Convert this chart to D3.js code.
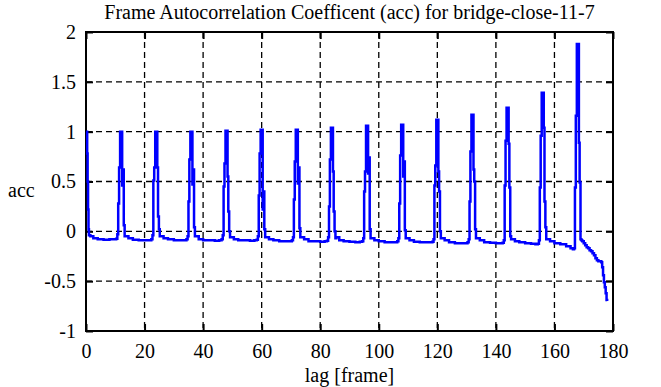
<!DOCTYPE html>
<html>
<head>
<meta charset="utf-8">
<script src="https://cdn.jsdelivr.net/npm/d3@7"></script>
<style>
  body { margin: 0; background: #fff; }
</style>
</head>
<body>
<div id="chart"></div>
<script>
// periodic peaks every 12 frames (GOP)
const peakCentres = [12, 24, 36, 48, 60, 72, 84, 96, 108, 120, 132, 144, 156, 168];
const peakOffsets = [-1.3, -1.0, -0.7, -0.35, 0.35, 0.6, 0.9, 1.2];
const peakAcc = [
  [-0.03, 0.28, 0.64, 1.00, 0.46, 0.62, 0.06, -0.05],
  [-0.04, 0.51, 0.64, 1.00, 0.64, 0.15, 0.02, -0.05],
  [-0.05, 0.30, 0.72, 1.00, 0.47, 0.62, 0.04, -0.05],
  [-0.04, 0.45, 0.68, 1.01, 0.55, 0.20, 0.00, -0.06],
  [-0.05, 0.36, 0.78, 1.02, 0.22, 0.40, 0.02, -0.06],
  [-0.06, 0.32, 0.70, 1.02, 0.48, 0.64, 0.03, -0.06],
  [-0.06, 0.25, 0.72, 1.04, 0.60, 0.20, 0.00, -0.07],
  [-0.07, 0.40, 0.60, 1.06, 0.58, 0.74, 0.02, -0.07],
  [-0.07, 0.28, 0.76, 1.07, 0.55, 0.70, 0.01, -0.07],
  [-0.08, 0.46, 0.66, 1.12, 0.60, 0.40, 0.00, -0.07],
  [-0.08, 0.30, 0.80, 1.17, 0.62, 0.50, 0.02, -0.07],
  [-0.09, 0.46, 0.91, 1.24, 0.88, 0.44, -0.05, -0.08],
  [-0.09, 0.44, 0.96, 1.39, 1.04, 0.30, 0.04, -0.08],
  [-0.17, 0.44, 1.16, 1.88, 0.89, 0.49, -0.08, -0.09]
];

// first lag (acc(0) = 1)
const startLag = [0, 0.4, 0.55, 0.7, 0.85, 1.0];
const startAcc = [1.00, 0.78, 0.50, 0.22, 0.02, -0.04];

// flat stretches between peaks
const baseStarts = [0, 12, 24, 36, 48, 60, 72, 84, 96, 108, 120, 132, 144, 156];
const baseOffsets = [1.5, 2.5, 4, 6, 8, 9.5, 10.3];
const baseAcc = [
  [-0.05, -0.07, -0.08, -0.085, -0.08, -0.08, -0.075],
  [-0.05, -0.07, -0.085, -0.09, -0.09, -0.09, -0.08],
  [-0.05, -0.07, -0.08, -0.09, -0.09, -0.09, -0.08],
  [-0.05, -0.08, -0.09, -0.09, -0.095, -0.09, -0.08],
  [-0.06, -0.08, -0.09, -0.09, -0.095, -0.09, -0.085],
  [-0.06, -0.08, -0.09, -0.10, -0.10, -0.10, -0.09],
  [-0.06, -0.08, -0.10, -0.10, -0.105, -0.10, -0.095],
  [-0.06, -0.09, -0.10, -0.105, -0.11, -0.105, -0.10],
  [-0.07, -0.09, -0.10, -0.11, -0.11, -0.11, -0.10],
  [-0.07, -0.09, -0.105, -0.11, -0.11, -0.11, -0.105],
  [-0.07, -0.09, -0.11, -0.12, -0.12, -0.12, -0.11],
  [-0.07, -0.09, -0.11, -0.115, -0.12, -0.12, -0.115],
  [-0.08, -0.10, -0.11, -0.12, -0.125, -0.13, -0.125],
  [-0.08, -0.10, -0.12, -0.13, -0.15, -0.17, -0.18]
];

// tail after the last peak
const tailLag = [169.5, 170, 170.5, 171, 171.5, 172, 172.5, 173, 173.5, 174, 174.5, 175, 175.5, 176, 176.3, 176.6, 176.9, 177.2, 177.5, 177.8, 178];
const tailAcc = [-0.10, -0.12, -0.14, -0.16, -0.17, -0.19, -0.20, -0.22, -0.24, -0.27, -0.29, -0.30, -0.30, -0.31, -0.36, -0.44, -0.51, -0.56, -0.62, -0.69, -0.70];

const xTicks = [0, 20, 40, 60, 80, 100, 120, 140, 160, 180];
const yTicks = [-1, -0.5, 0, 0.5, 1, 1.5, 2];

// build the series
let points = startLag.map((l, i) => ({ lag: l, acc: startAcc[i] }));
baseStarts.forEach((s, j) => {
  baseOffsets.forEach((o, i) => points.push({ lag: s + o, acc: baseAcc[j][i] }));
});
peakCentres.forEach((c, j) => {
  peakOffsets.forEach((o, i) => points.push({ lag: c + o, acc: peakAcc[j][i] }));
});
tailLag.forEach((l, i) => points.push({ lag: l, acc: tailAcc[i] }));
points.sort((a, b) => a.lag - b.lag);

const W = 661, H = 387;
const m = { left: 86, right: 48, top: 32, bottom: 56 };
const font = '"Liberation Serif", "Times New Roman", serif';

const svg = d3.select('#chart').append('svg')
  .attr('width', W)
  .attr('height', H);

const x = d3.scaleLinear().domain([0, 180]).range([m.left, W - m.right]);
const y = d3.scaleLinear().domain([-1, 2]).range([H - m.bottom, m.top]);

//grid
svg.append('g').selectAll('line')
  .data(xTicks.slice(1, -1))
  .enter().append('line')
  .attr('x1', d => x(d)).attr('x2', d => x(d))
  .attr('y1', y(2)).attr('y2', y(-1))
  .attr('stroke', '#000').attr('stroke-width', 1.3)
  .attr('stroke-dasharray', '6,4');
svg.append('g').selectAll('line')
  .data(yTicks.slice(1, -1))
  .enter().append('line')
  .attr('x1', x(0)).attr('x2', x(180))
  .attr('y1', d => y(d)).attr('y2', d => y(d))
  .attr('stroke', '#000').attr('stroke-width', 1.3)
  .attr('stroke-dasharray', '6,4');

//axes with inward ticks
const tl = 7;
const fmt = d => String(d);
svg.append('g').attr('transform', `translate(0,${y(-1)})`)
  .call(d3.axisBottom(x).tickValues(xTicks).tickSizeInner(-tl).tickSizeOuter(0).tickPadding(13).tickFormat(fmt));
svg.append('g').attr('transform', `translate(0,${y(2)})`)
  .call(d3.axisTop(x).tickValues(xTicks).tickSizeInner(-tl).tickSizeOuter(0).tickFormat(''));
svg.append('g').attr('transform', `translate(${x(0)},0)`)
  .call(d3.axisLeft(y).tickValues(yTicks).tickSizeInner(-tl).tickSizeOuter(0).tickPadding(10).tickFormat(fmt));
svg.append('g').attr('transform', `translate(${x(180)},0)`)
  .call(d3.axisRight(y).tickValues(yTicks).tickSizeInner(-tl).tickSizeOuter(0).tickFormat(''));

svg.selectAll('.domain').remove();
svg.selectAll('.tick line').attr('stroke', '#000').attr('stroke-width', 2);
svg.selectAll('.tick text')
  .style('font-family', font)
  .style('font-size', '20px')
  .attr('fill', '#000');

//frame
svg.append('rect')
  .attr('x', x(0)).attr('y', y(2))
  .attr('width', x(180) - x(0)).attr('height', y(-1) - y(2))
  .attr('fill', 'none').attr('stroke', '#000').attr('stroke-width', 2);

//the acc line
const line = d3.line().curve(d3.curveStepAfter).x(d => x(d.lag)).y(d => y(d.acc));
svg.append('path')
  .datum(points)
  .attr('d', line)
  .attr('fill', 'none')
  .attr('stroke', '#0000ff')
  .attr('stroke-width', 2.5);

//labels
const label = (tx, ty, anchor, txt) => svg.append('text')
  .attr('x', tx).attr('y', ty)
  .attr('text-anchor', anchor)
  .style('font-family', font)
  .style('font-size', '20px')
  .text(txt);
label((x(0) + x(180)) / 2, 19, 'middle', 'Frame Autocorrelation Coefficent (acc) for bridge-close-11-7');
label((x(0) + x(180)) / 2, 382, 'middle', 'lag [frame]');
label(8, 197, 'start', 'acc');
</script>
</body>
</html>
